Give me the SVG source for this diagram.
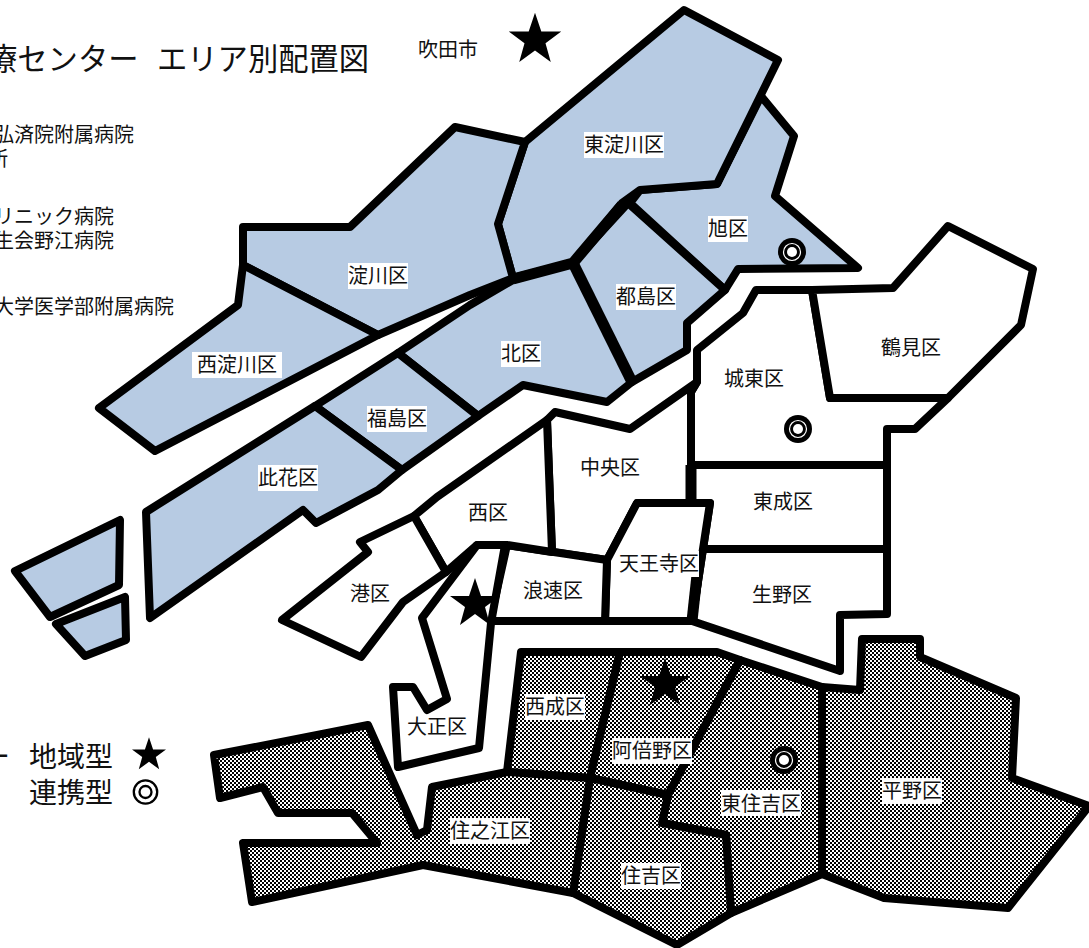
<svg xmlns="http://www.w3.org/2000/svg" width="1089" height="948" viewBox="0 0 1089 948">
<style>
text{font-family:"Noto Sans CJK JP","Noto Sans",sans-serif;fill:#111}
.d polygon{stroke:#000;stroke-width:8;stroke-linejoin:round}
.b polygon{fill:#b7cbe3}
.w polygon{fill:#fff}
.s polygon{fill:url(#chk)}
.l{font-size:20px;text-anchor:middle}
.bg{fill:#fff}
.t{font-size:20px}
.h{font-size:30.3px}
.g{font-size:28px}
.ring{fill:none;stroke:#000}
.thick{fill:none;stroke:#000;stroke-width:11;stroke-linejoin:round}
</style>
<defs>
<pattern id="chk" width="4" height="4" patternUnits="userSpaceOnUse">
<rect width="4" height="4" fill="#fff"/><rect width="2" height="2" fill="#000"/><rect x="2" y="2" width="2" height="2" fill="#000"/>
</pattern>
<polygon id="star" points="0,-26 6,-8 25,-8 10,3 15,21 0,10 -15,21 -10,3 -25,-8 -6,-8"/>
<g id="dbl"><circle r="14" fill="#000"/><circle r="8.5" fill="none" stroke="#fff" stroke-width="1.2"/><circle r="5" fill="#fff"/></g>
</defs>
<rect width="1089" height="948" fill="#fff"/>
<g id="title">
<text x="-13" y="70" class="h">療センター</text>
<text x="157" y="70" class="h">エリア別配置図</text>
<text x="418" y="57" class="t">吹田市</text>
<text x="-6" y="142" class="t">弘済院附属病院</text>
<text x="-12" y="166" class="t">所</text>
<text x="-6" y="224" class="t">リニック病院</text>
<text x="-6" y="248" class="t">生会野江病院</text>
<text x="-6" y="314" class="t">大学医学部附属病院</text>
</g>
<g class="d b">
<g id="asahi"><polygon points="761,96 794,136 775,196 858,268 738,269 725,290 630,203 640,190 717,184"/></g>
<g id="higashiyodogawa"><polygon points="684,10 778,60 717,184 640,190 622,203 573,263 513,278 498,224 525,142"/></g>
<g id="miyakojima"><polygon points="628,203 725,290 687,323 687,350 632,382 573,263"/></g>
<g id="kita"><polygon points="573,263 632,382 607,402 523,385 478,416 398,353 470,305 513,280"/></g>
<g id="yodogawa"><polygon points="243,227 350,227 455,127 525,142 498,224 513,278 470,295 378,335 243,265"/></g>
<g id="nishiyodogawa"><polygon points="243,265 378,335 155,451 99,408 238,305"/></g>
<g id="fukushima"><polygon points="398,353 478,416 402,470 315,406"/></g>
<g id="konohana"><polygon points="146,512 315,406 402,470 378,490 316,523 303,510 150,618"/></g>
<g id="konohana-island1"><polygon points="15,571 120,520 119,585 50,617"/></g>
<g id="konohana-island2"><polygon points="56,624 125,597 126,640 85,656"/></g>
</g>
<g class="d w">
<g id="joto"><polygon points="756,290 812,290 830,398 948,398 915,429 887,429 887,465 691,465 691,392 697,382 697,350 743,313"/></g>
<g id="tsurumi"><polygon points="812,290 893,288 948,226 1033,269 1021,325 948,398 830,398"/></g>
<g id="chuo"><polygon points="547,420 555,412 630,429 697,382 691,392 691,503 637,503 607,560 552,552"/></g>
<g id="higashinari"><polygon points="691,465 887,465 887,549 703,549 710,503 690,503"/></g>
<g id="ikuno"><polygon points="703,549 887,549 887,614 840,615 840,671 692,621"/></g>
<g id="tennoji"><polygon points="637,503 710,503 692,621 605,621 607,560"/></g>
<g id="naniwa"><polygon points="507,545 607,560 605,621 490,621"/></g>
<g id="nishi"><polygon points="414,516 437,497 547,420 552,552 507,545 477,545 446,572"/></g>
<g id="minato"><polygon points="360,542 414,516 446,572 403,602 361,657 282,620 368,552"/></g>
<g id="taisho"><polygon points="477,545 505,545 491,623 479,748 398,767 393,687 413,687 427,710 447,699 422,618"/></g>
</g>
<g class="d s">
<g id="nishinari"><polygon points="521,652 620,652 590,778 507,772"/></g>
<g id="abeno"><polygon points="620,652 717,652 740,660 668,795 590,778"/></g>
<g id="higashisumiyoshi"><polygon points="740,660 822,687 822,874 731,913 726,835 662,823 668,795"/></g>
<g id="hirano"><polygon points="822,687 860,690 862,639 920,639 920,657 1016,698 1012,778 1089,806 1008,908 884,898 822,874"/></g>
<g id="sumiyoshi"><polygon points="590,778 668,795 662,823 726,835 731,913 677,945 573,893"/></g>
<g id="suminoe"><polygon points="432,787 507,772 590,778 573,893 423,865 252,902 243,843 377,843 352,813 278,813 263,787 220,798 214,755 368,725 417,835 427,830"/></g>
</g>
<g id="thick-borders">
<polyline class="thick" points="513,279 573,263 622,205"/>
<polyline class="thick" points="573,263 632,382"/>
<polyline class="thick" points="691,465 691,503"/>
<polyline class="thick" points="692,621 697,575"/>
</g>
<g id="labels">
<rect class="bg" x="584" y="132" width="80" height="26"/><text class="l" x="624" y="152">東淀川区</text>
<rect class="bg" x="708" y="216" width="40" height="26"/><text class="l" x="728" y="236">旭区</text>
<rect class="bg" x="616" y="284" width="60" height="26"/><text class="l" x="646" y="304">都島区</text>
<rect class="bg" x="501" y="341" width="40" height="26"/><text class="l" x="521" y="361">北区</text>
<rect class="bg" x="348" y="263" width="60" height="26"/><text class="l" x="378" y="283">淀川区</text>
<rect class="bg" x="192" y="352" width="90" height="26"/><text class="l" x="237" y="372">西淀川区</text>
<rect class="bg" x="367" y="406" width="60" height="26"/><text class="l" x="397" y="426">福島区</text>
<rect class="bg" x="258" y="465" width="60" height="26"/><text class="l" x="288" y="485">此花区</text>
<text class="l" x="754" y="386">城東区</text>
<text class="l" x="911" y="355">鶴見区</text>
<text class="l" x="610" y="475">中央区</text>
<text class="l" x="783" y="509">東成区</text>
<text class="l" x="782" y="602">生野区</text>
<rect class="bg" x="619" y="551" width="80" height="26"/><text class="l" x="659" y="571">天王寺区</text>
<text class="l" x="553" y="598">浪速区</text>
<text class="l" x="488" y="520">西区</text>
<text class="l" x="370" y="601">港区</text>
<text class="l" x="437" y="734">大正区</text>
<rect class="bg" x="525" y="694" width="60" height="26"/><text class="l" x="555" y="714">西成区</text>
<rect class="bg" x="612" y="738" width="80" height="26"/><text class="l" x="652" y="758">阿倍野区</text>
<rect class="bg" x="721" y="790" width="80" height="26"/><text class="l" x="761" y="811">東住吉区</text>
<rect class="bg" x="882" y="778" width="60" height="26"/><text class="l" x="912" y="798">平野区</text>
<rect class="bg" x="621" y="863" width="60" height="26"/><text class="l" x="651" y="883">住吉区</text>
<rect class="bg" x="450" y="818" width="80" height="26"/><text class="l" x="490" y="838">住之江区</text>
</g>
<g id="marks">
<use href="#star" transform="translate(535,40) scale(1.05)"/>
<use href="#star" transform="translate(475,604)"/>
<use href="#star" transform="translate(665,684)"/>
<use href="#dbl" transform="translate(792,252)"/>
<use href="#dbl" transform="translate(798,429)"/>
<use href="#dbl" transform="translate(784,760)"/>
</g>
<g id="legend">
<text x="-18" y="767" class="g">ー</text>
<text x="29" y="767" class="g">地域型</text>
<text x="29" y="803" class="g">連携型</text>
<use href="#star" transform="translate(149,755) scale(.68)"/>
<circle cx="145.5" cy="792" r="11.7" class="ring" stroke-width="2.3"/>
<circle cx="145.5" cy="792" r="6" class="ring" stroke-width="2.3"/>
</g>
</svg>
